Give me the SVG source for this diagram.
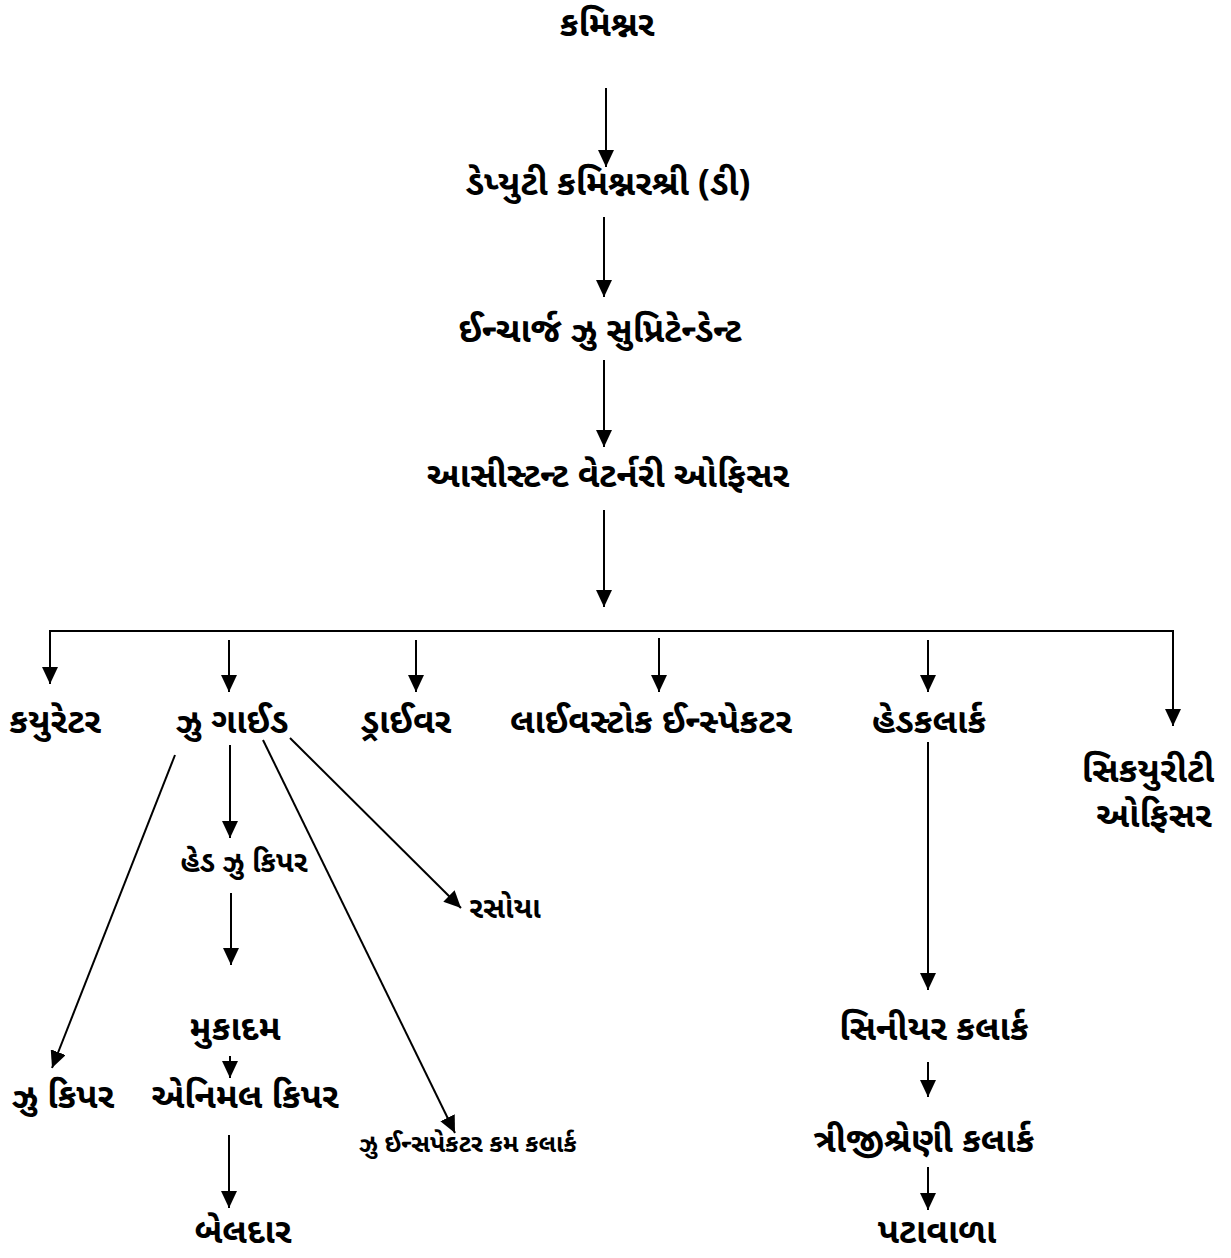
<svg xmlns="http://www.w3.org/2000/svg" width="1231" height="1258" viewBox="0 0 1231 1258">
<defs>
<style>
text{font-family:"Shruti","Noto Sans Gujarati","Lohit Gujarati","Noto Sans",sans-serif;font-weight:bold;fill:#000;text-anchor:middle;}
.l{font-size:35px;}
.m{font-size:29px;}
.s{font-size:25px;}
.c line,.c path{stroke:#000;stroke-width:2;fill:none;}
.c .a{marker-end:url(#ah);}
</style>
<marker id="ah" viewBox="0 0 17 16" refX="17" refY="8" markerWidth="17" markerHeight="16" markerUnits="userSpaceOnUse" orient="auto">
<path d="M0,0 L17,8 L0,16 z" fill="#000"/>
</marker>
</defs>
<rect width="1231" height="1258" fill="#fff"/>
<g class="c" id="connectors">
<line class="a" x1="606" y1="88" x2="606" y2="167"/>
<line class="a" x1="604" y1="217" x2="604" y2="297"/>
<line class="a" x1="604" y1="360" x2="604" y2="447"/>
<line class="a" x1="604" y1="510" x2="604" y2="607"/>
<path d="M50,631 L1173,631 L1173,726" class="a"/>
<line class="a" x1="50" y1="630" x2="50" y2="684"/>
<line class="a" x1="229" y1="640" x2="229" y2="692"/>
<line class="a" x1="416" y1="640" x2="416" y2="692"/>
<line class="a" x1="659" y1="638" x2="659" y2="692"/>
<line class="a" x1="928" y1="640" x2="928" y2="692"/>
<line class="a" x1="175" y1="755" x2="52" y2="1068"/>
<line class="a" x1="230" y1="745" x2="230" y2="838"/>
<line class="a" x1="263" y1="740" x2="455" y2="1133"/>
<line class="a" x1="290" y1="738" x2="461" y2="908"/>
<line class="a" x1="231" y1="893" x2="231" y2="965"/>
<line class="a" x1="230" y1="1056" x2="230" y2="1078"/>
<line class="a" x1="229" y1="1135" x2="229" y2="1208"/>
<line class="a" x1="928" y1="742" x2="928" y2="990"/>
<line class="a" x1="928" y1="1062" x2="928" y2="1097"/>
<line class="a" x1="928" y1="1167" x2="928" y2="1210"/>
</g>
<g id="n1"><text class="l" x="607" y="36">કમિશ્નર</text></g>
<g id="n2"><text class="l" x="608" y="195">ડેપ્યુટી કમિશ્નરશ્રી (ડી)</text></g>
<g id="n3"><text class="l" x="600" y="342">ઈન્ચાર્જ ઝુ સુપ્રિટેન્ડેન્ટ</text></g>
<g id="n4"><text class="l" x="608" y="487">આસીસ્ટન્ટ વેટર્નરી ઓફિસર</text></g>
<g id="n5"><text class="l" x="55" y="733">કયુરેટર</text></g>
<g id="n6"><text class="l" x="232" y="733">ઝુ ગાઈડ</text></g>
<g id="n7"><text class="l" x="406" y="733">ડ્રાઈવર</text></g>
<g id="n8"><text class="l" x="651" y="733">લાઈવસ્ટોક ઈન્સ્પેકટર</text></g>
<g id="n9"><text class="l" x="929" y="733">હેડકલાર્ક</text></g>
<g id="n10"><text class="l" x="1148" y="782">સિકયુરીટી</text><text class="l" x="1154" y="827">ઓફિસર</text></g>
<g id="n11"><text class="m" x="244" y="872">હેડ ઝુ કિપર</text></g>
<g id="n12"><text class="m" x="505" y="918">રસોયા</text></g>
<g id="n13"><text class="l" x="235" y="1040">મુકાદમ</text></g>
<g id="n14"><text class="l" x="63" y="1108">ઝુ કિપર</text></g>
<g id="n15"><text class="l" x="245" y="1108">એનિમલ કિપર</text></g>
<g id="n16"><text class="s" x="468" y="1152">ઝુ ઈન્સપેકટર કમ કલાર્ક</text></g>
<g id="n17"><text class="l" x="243" y="1243">બેલદાર</text></g>
<g id="n18"><text class="l" x="934" y="1040">સિનીયર કલાર્ક</text></g>
<g id="n19"><text class="l" x="924" y="1152">ત્રીજીશ્રેણી કલાર્ક</text></g>
<g id="n20"><text class="l" x="937" y="1243">પટાવાળા</text></g>
</svg>
